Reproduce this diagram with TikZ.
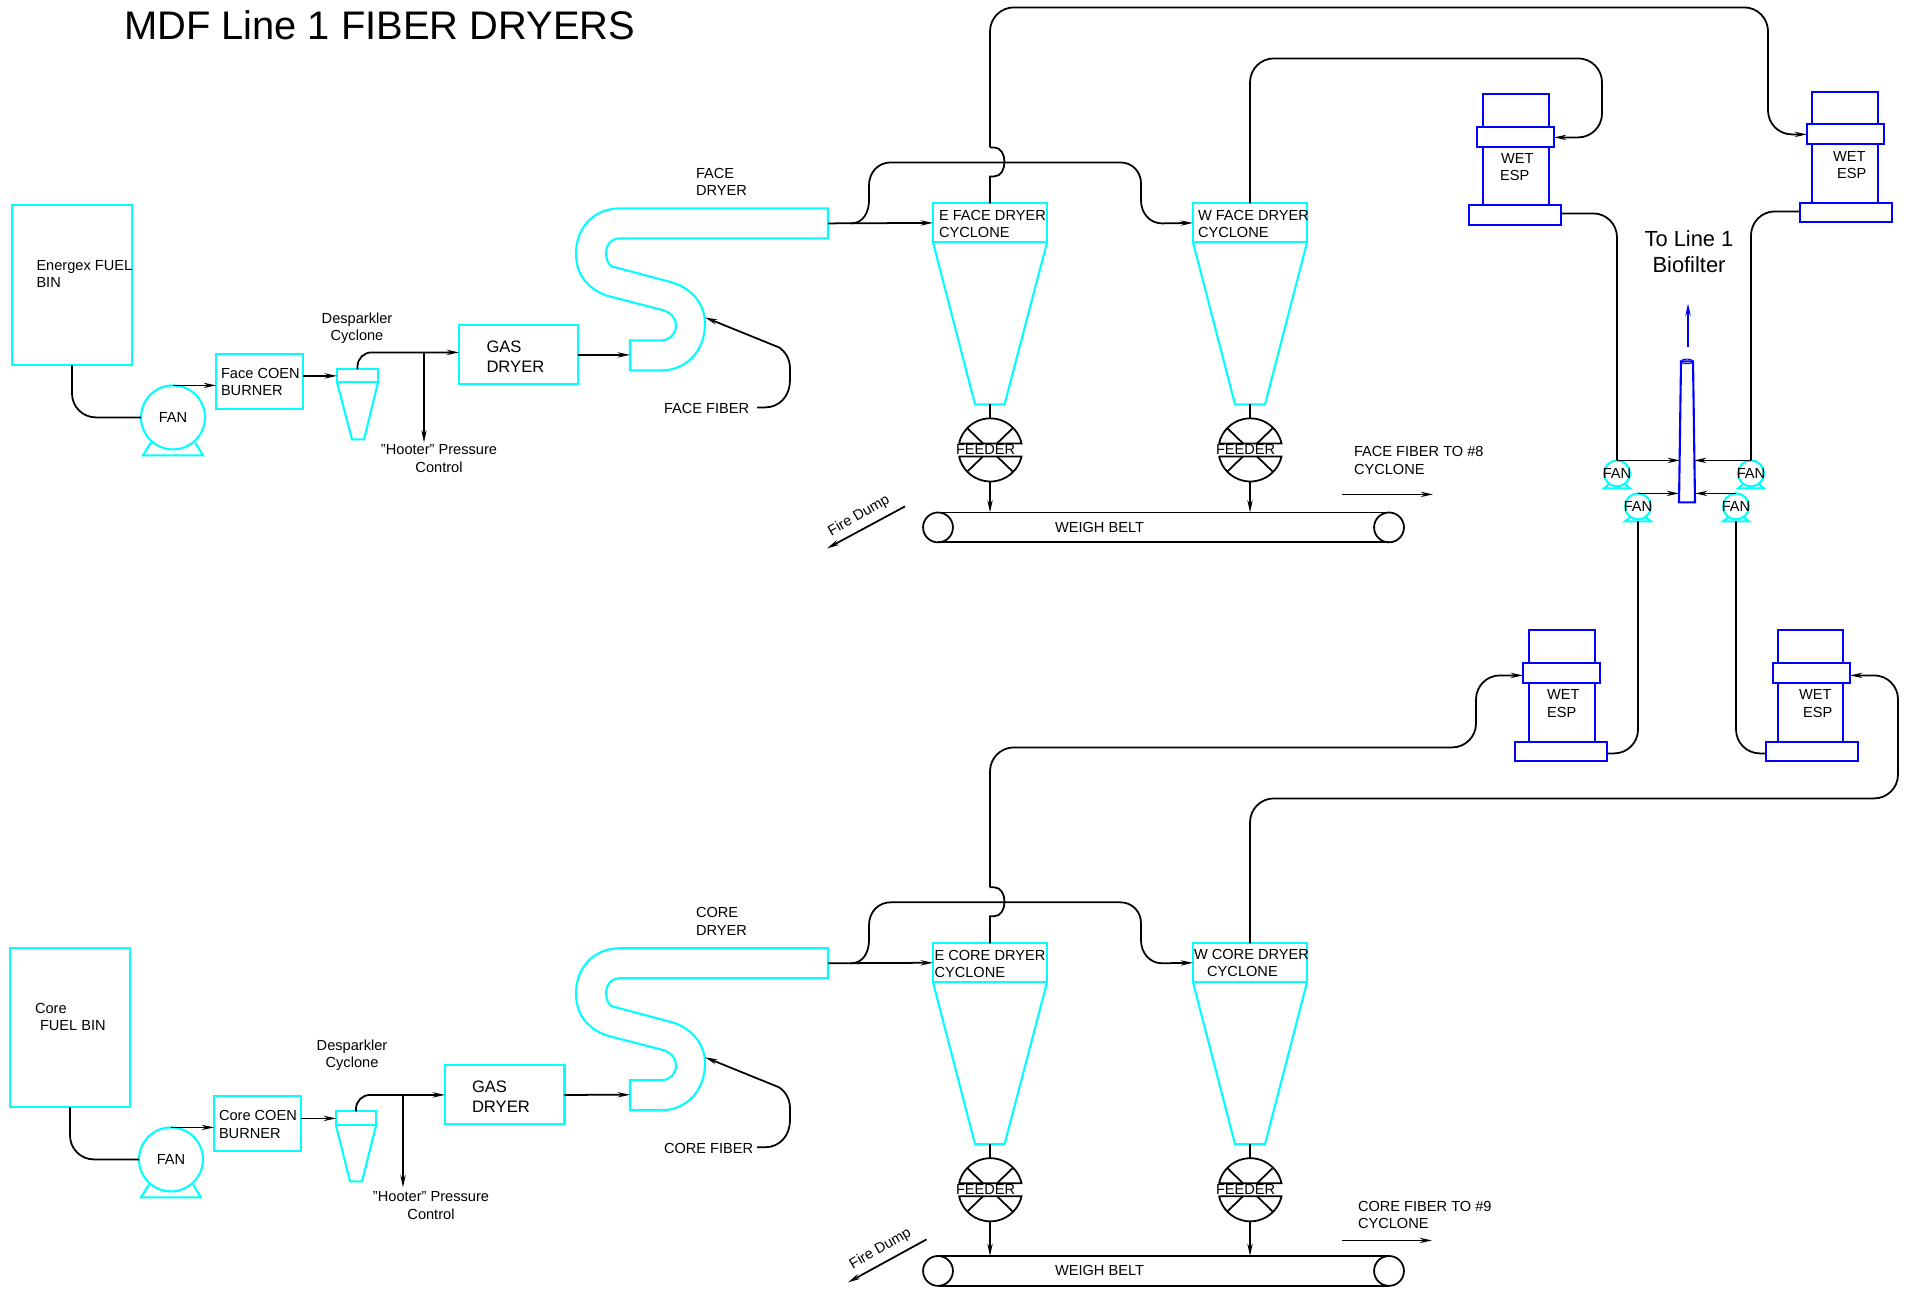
\documentclass[tikz,border=0pt]{standalone}
\usepackage{fontspec}
\setmainfont{Liberation Sans}
\usetikzlibrary{arrows.meta}
\definecolor{cy}{RGB}{0,255,255}
\definecolor{bl}{RGB}{0,0,255}
\tikzset{
  pipe/.style={draw=black,line width=1pt},
  arr/.style={-{Stealth[length=7pt,width=3pt]}},
  rc/.style={rounded corners=13.6pt},
  cyanbox/.style={draw=cy,line width=1.2pt,inner sep=0pt,outer sep=0pt,rectangle},
  bluebox/.style={draw=bl,line width=1.2pt,inner sep=0pt,outer sep=0pt,rectangle},
  cyanline/.style={draw=cy,line width=1.2pt,line join=miter},
  blueline/.style={draw=bl,line width=1.2pt},
  lbl/.style={font=\fontsize{8.31}{9.96}\selectfont,inner sep=0pt,outer sep=0pt,anchor=west,align=left,text=black},
  lblc/.style={font=\fontsize{8.31}{9.96}\selectfont,inner sep=0pt,outer sep=0pt,anchor=center,align=center,text=black},
  gaslbl/.style={font=\fontsize{9.45}{11.4}\selectfont,inner sep=0pt,outer sep=0pt,anchor=west,align=left,text=black},
  biglbl/.style={font=\fontsize{12.45}{15.1}\selectfont,inner sep=0pt,outer sep=0pt,anchor=center,align=center,text=black},
  titlelbl/.style={font=\fontsize{22.7}{27}\selectfont,inner sep=0pt,outer sep=0pt,anchor=west,text=black},
}
% box by corners: style, name, x1,y1,x2,y2
\newcommand\bx[6]{\node[#1,minimum width={(#5-#3)*0.56906pt},minimum height={(#6-#4)*0.56906pt}] (#2) at ({(#3+#5)/2},{(#4+#6)/2}) {};}
% fan: name, x, y, r, foot drop, foot half-width, start half, start drop
\newcommand\fanunit[8]{%
  \draw[cyanline] (#2-#7,#3+#8) -- (#2-#6,#3+#5) -- (#2+#6,#3+#5) -- (#2+#7,#3+#8);
  \node[cyanbox,circle,fill=white,minimum size={2*#4*0.56906pt}] (#1) at (#2,#3) {};
  \node[lblc] (#1t) at (#2,#3) {FAN};
  \coordinate (#1foot) at (#2,#3+#5);
}
% feeder: name, x, y
\newcommand\feederunit[3]{%
  \node[circle,inner sep=0pt,outer sep=0pt,minimum size=36.42pt] (#1) at (#2,#3) {};
  \draw[pipe] (#2-31.5,#3-7) -- (#2+31.5,#3-7) arc[start angle=12.5,end angle=167.5,radius=18.21pt];
  \draw[pipe] (#2-31.5,#3+6) -- (#2+31.5,#3+6) arc[start angle=-12.5,end angle=-167.5,radius=18.21pt];
  \draw[pipe] (#2-22.5,#3-22) -- (#2-7,#3-7) (#2+22.5,#3-22) -- (#2+7,#3-7);
  \draw[pipe] (#2-22.5,#3+21) -- (#2-7,#3+6) (#2+22.5,#3+21) -- (#2+7,#3+6);
  \node[lbl] (#1t) at (#2-34,#3-1) {FEEDER};
}
% belt: name, top y, bottom y
\newcommand\beltunit[3]{%
  \node[circle,draw=black,line width=1pt,inner sep=0pt,outer sep=0pt,minimum size=17pt] (#1l) at (938,{(#2+#3)/2}) {};
  \node[circle,draw=black,line width=1pt,inner sep=0pt,outer sep=0pt,minimum size=17pt] (#1r) at (1389,{(#2+#3)/2}) {};
  \draw[pipe] (#1l.north) -- (#1r.north) (#1l.south) -- (#1r.south);
}
% ESP: name, top-rect x1 x2, collar x1 x2, base x1 x2, y0 y1 (y2..y4 from \yc \yd \ye)
\newcommand\espunit[9]{%
  \bx{bluebox}{#1top}{#2}{#8}{#3}{#9}
  \bx{bluebox}{#1col}{#4}{#9}{#5}{\yc}
  \bx{bluebox}{#1body}{#2}{\yc}{#3}{\yd}
  \bx{bluebox}{#1base}{#6}{\yd}{#7}{\ye}
}
% dryer section (S duct, two cyclones, two feeders)
\newcommand\dryersec[2]{%
\begin{scope}[yshift=#2]
  \draw[cyanline] (828,208) -- (620,208) .. controls (593,208) and (576,228) .. (576,253)
     .. controls (576,275) and (588,288) .. (606,295) -- (664,310)
     .. controls (672,313) and (676,319) .. (676,325) .. controls (676,333) and (670,340) .. (661,340)
     -- (630,340) -- (630,370) -- (661,370) .. controls (687,370) and (705,350) .. (705,323)
     .. controls (705,304) and (692,288) .. (672,282) -- (612,266)
     .. controls (608,264) and (606,258) .. (606,252) .. controls (606,245) and (611,238) .. (620,238)
     -- (828,238) -- cycle;
  \coordinate (#1sin) at (630,354.5);
  \coordinate (#1out) at (828,223);
  \coordinate (#1tap) at (851,223);
  \coordinate (#1fibs) at (757,407);
  \coordinate (#1fibe) at (705,317);
  \bx{cyanbox}{#1eb}{933}{203}{1047}{242}
  \bx{cyanbox}{#1wb}{1193}{203}{1307}{242}
  \draw[cyanline] (933,242) -- (975,404) -- (1004.5,404) -- (1047,242);
  \draw[cyanline] (1193,242) -- (1235,404) -- (1265,404) -- (1307,242);
  \coordinate (#1ebot) at (990,404);
  \coordinate (#1wbot) at (1250,404);
  \coordinate (#1jump) at (990,147);
  \feederunit{#1ef}{990}{450}
  \feederunit{#1wf}{1250}{450}
  \draw[pipe,arr] (#1out) -- (#1eb.west);
  \draw[pipe,arr] (#1tap) .. controls (863,223) and (869,212) .. (869,200) -- (869,185)
     .. controls (869,172) and (878,162) .. (891,162) -- (1120,162)
     .. controls (1133,162) and (1141,172) .. (1141,183) -- (1141,200)
     .. controls (1141,213) and (1150,223) .. (1162,223) -- (#1wb.west);
  \draw[pipe] (#1eb.north) -- (990,176) -- (994,176) .. controls (1008,176) and (1008,147) .. (994,147) -- (#1jump);
  \draw[pipe] (#1ebot) -- (#1ef.north);
  \draw[pipe] (#1wbot) -- (#1wf.north);
  \draw[pipe,arr] (#1fibs) -- (765,407) .. controls (780,407) and (790,395) .. (790,380) -- (790,368)
     .. controls (790,358) and (785,351) .. (779,347) -- (#1fibe);
\end{scope}}
\begin{document}
\begin{tikzpicture}[x=0.02cm,y=-0.02cm]
\useasboundingbox (0,-0.4) rectangle (1912,1288.6);

\node[titlelbl] (title) at (124,25) {MDF Line 1 FIBER DRYERS};

\dryersec{f}{0cm}
\dryersec{c}{-14.8cm}

% ---------- FACE left part
\bx{cyanbox}{fbin}{12}{205}{132}{365}
\fanunit{ffan}{173}{417}{32}{38}{30}{22}{25}
\bx{cyanbox}{fburn}{216}{354}{303}{409}
\bx{cyanbox}{fdc}{337}{369}{378}{382}
\draw[cyanline] (337,382) -- (352,439) -- (364,439) -- (378,382);
\bx{cyanbox}{fgas}{459}{325}{578}{384}
\coordinate (fgasin) at (459,352);
\coordinate (fhoot) at (424,442);
\coordinate (fhtap) at (424,352);
\draw[pipe,rc] (fbin.south) |- (ffan.west);
\draw[pipe,arr] (ffan.north) -- (ffan.north -| fburn.west);
\draw[pipe,arr] (fburn.east |- fdc.west) -- (fdc.west);
\draw[pipe,arr,rounded corners=8pt] (fdc.north) |- (fgasin);
\draw[pipe,arr] (fhtap) -- (fhoot);
\draw[pipe,arr] (fgas.east) -- (fsin);

% ---------- CORE left part
\bx{cyanbox}{cbin}{10}{948}{130}{1107}
\fanunit{cfan}{171}{1159}{32}{38}{30}{22}{25}
\bx{cyanbox}{cburn}{214}{1096}{300.6}{1151}
\bx{cyanbox}{cdc}{336}{1111}{376}{1125}
\draw[cyanline] (336,1125) -- (350,1181) -- (362,1181) -- (376,1125);
\bx{cyanbox}{cgas}{445}{1065}{564.5}{1124}
\coordinate (choot) at (403,1187);
\coordinate (chtap) at (403,1094);
\draw[pipe,rc] (cbin.south) |- (cfan.west);
\draw[pipe,arr] (cfan.north) -- (cfan.north -| cburn.west);
\draw[pipe,arr] (cburn.east |- cdc.west) -- (cdc.west);
\draw[pipe,arr,rounded corners=8pt] (cdc.north) |- (cgas.west);
\draw[pipe,arr] (chtap) -- (choot);
\draw[pipe,arr] (cgas.east) -- (csin);

% ---------- belts
\beltunit{fbelt}{512}{542}
\beltunit{cbelt}{1256}{1285}
\draw[pipe,arr] (fef.south) -- (fef.south |- fbeltl.north);
\draw[pipe,arr] (fwf.south) -- (fwf.south |- fbeltl.north);
\draw[pipe,arr] (cef.south) -- (cef.south |- cbeltl.north);
\draw[pipe,arr] (cwf.south) -- (cwf.south |- cbeltl.north);

% free arrows
\coordinate (fd1a) at (905,506); \coordinate (fd1b) at (827,548);
\coordinate (fd2a) at (926.5,1239); \coordinate (fd2b) at (848,1282);
\draw[pipe,arr] (fd1a) -- (fd1b);
\draw[pipe,arr] (fd2a) -- (fd2b);
\coordinate (ff8a) at (1342,494); \coordinate (ff8b) at (1433,494);
\coordinate (cf9a) at (1342,1240); \coordinate (cf9b) at (1432,1240);
\draw[pipe,arr] (ff8a) -- (ff8b);
\draw[pipe,arr] (cf9a) -- (cf9b);

% ---------- ESPs
\def\yc{147}\def\yd{205}\def\ye{225}
\espunit{ea}{1483}{1549}{1477}{1554}{1469}{1561}{94}{127}
\def\yc{144}\def\yd{203}\def\ye{222}
\espunit{eb}{1812}{1878}{1807}{1884}{1800}{1892}{92}{124}
\def\yc{683}\def\yd{742}\def\ye{761}
\espunit{ec}{1529}{1595}{1523}{1600}{1515}{1607}{630}{663}
\espunit{ed}{1778}{1843}{1773}{1850}{1766}{1858}{630}{663}

% ---------- stack and fans
\draw[blueline,fill=white] (1681,361) -- (1693,361) -- (1695,502) -- (1679,502) -- cycle;
\draw[draw=bl,line width=0.6pt] (1687,361) ellipse [x radius=3.4pt,y radius=1.3pt];
\coordinate (stkai) at (1680,459); \coordinate (stkbi) at (1694,459);
\coordinate (stkci) at (1679,493); \coordinate (stkdi) at (1695,493);
\coordinate (bioa) at (1688,347); \coordinate (biob) at (1688,303);
\draw[blueline,arr] (bioa) -- (biob);
\fanunit{fana}{1617}{473}{13}{15}{13}{8}{11}
\fanunit{fanb}{1751}{473}{13}{15}{13}{8}{11}
\fanunit{fanc}{1638}{506}{13}{15}{13}{8}{11}
\fanunit{fand}{1736}{506}{13}{15}{13}{8}{11}
\draw[pipe,arr] (fana.north) -- (fana.north -| stkai);
\draw[pipe,arr] (fanb.north) -- (fanb.north -| stkbi);
\draw[pipe,arr] (fanc.north) -- (fanc.north -| stkci);
\draw[pipe,arr] (fand.north) -- (fand.north -| stkdi);

% ---------- long ducts
\coordinate (eaout) at (1561,213);
\coordinate (ebout) at (1800,211);
\coordinate (ecin) at (1523,675);
\coordinate (edin) at (1850,675);
\coordinate (ecout) at (1607,753);
\coordinate (edout) at (1766,753);
\draw[pipe,arr,rc] (fjump) -- (990,7) -- (1768,7) -- (1768,134) -- (ebcol.west);
\draw[pipe,arr,rc] (fwb.north) -- (1250,58) -- (1602,58) -- (1602,137) -- (eacol.east);
\draw[pipe,rc] (eaout) -| (fana.north);
\draw[pipe,rc] (ebout) -| (fanb.north);
\draw[pipe,arr,rc] (cjump) -- (990,747) -- (1476,747) -- (1476,675) -- (ecin);
\draw[pipe,arr,rc] (cwb.north) -- (1250,798) -- (1898,798) -- (1898,675) -- (edin);
\draw[pipe,rc] (ecout) -| (fancfoot);
\draw[pipe,rc] (edout) -| (fandfoot);

% ---------- labels
\node[lbl] (t1) at (36.5,273.5) {Energex FUEL\\BIN};
\node[lbl] (t2) at (221,381.5) {Face COEN\\BURNER};
\node[lblc] (t3) at (357,328) {Desparkler\\Cyclone};
\node[lblc] (t4) at (439,458) {"Hooter" Pressure\\Control};
\node[gaslbl] (t5) at (486.5,356) {GAS\\DRYER};
\node[lbl] (t6) at (664,408) {FACE FIBER};
\node[lbl] (t7) at (696,181.5) {FACE\\DRYER};
\node[lbl] (t8) at (939,223.5) {E FACE DRYER\\CYCLONE};
\node[lbl] (t9) at (1198,223.5) {W FACE DRYER\\CYCLONE};
\node[lbl] (t10) at (1354,460) {FACE FIBER TO \#8\\CYCLONE};
\node[lbl] (t11) at (1055,527) {WEIGH BELT};
\node[lblc,rotate=30] (t12) at (859,515.5) {Fire Dump};

\node[lbl] (t21) at (35,1016.5) {Core\\\hspace*{2.85pt}FUEL BIN};
\node[lbl] (t22) at (219,1124) {Core COEN\\BURNER};
\node[lblc] (t23) at (352,1055) {Desparkler\\Cyclone};
\node[lblc] (t24) at (431,1205) {"Hooter" Pressure\\Control};
\node[gaslbl] (t25) at (472,1096) {GAS\\DRYER};
\node[lbl] (t26) at (664,1148) {CORE FIBER};
\node[lbl] (t27) at (696,921) {CORE\\DRYER};
\node[lbl] (t28) at (934.5,963.5) {E CORE DRYER\\CYCLONE};
\node[lbl] (t29) at (1194,962.5) {W CORE DRYER\\\hspace*{7.5pt}CYCLONE};
\node[lbl] (t30) at (1358,1214.5) {CORE FIBER TO \#9\\CYCLONE};
\node[lbl] (t31) at (1055,1270) {WEIGH BELT};
\node[lblc,rotate=30] (t32) at (880.5,1248.5) {Fire Dump};

\node[lbl] (w1) at (1500,166.5) {\hspace*{0.6pt}WET\\ESP};
\node[lbl] (w2) at (1833,164.5) {WET\\\hspace*{2.3pt}ESP};
\node[lbl] (w3) at (1547,703) {WET\\ESP};
\node[lbl] (w4) at (1799,703) {WET\\\hspace*{2.3pt}ESP};
\node[biglbl] (b1) at (1689,251.5) {To Line 1\\Biofilter};
\end{tikzpicture}
\end{document}
